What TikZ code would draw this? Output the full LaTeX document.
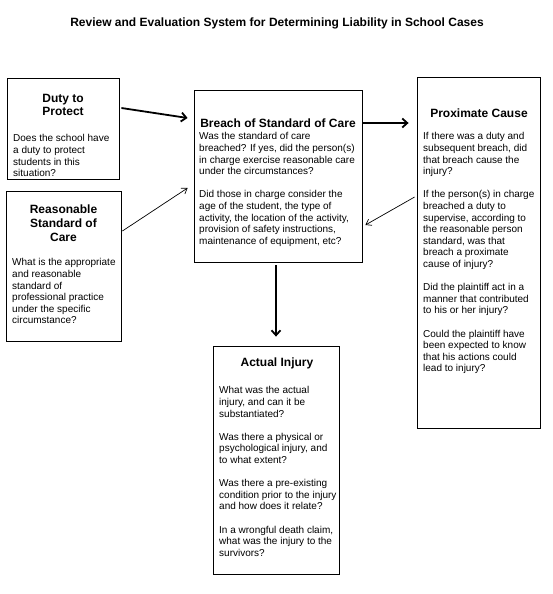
\documentclass[tikz,border=0pt]{standalone}
\usepackage{fontspec}
\setmainfont{Liberation Sans}
\usetikzlibrary{arrows.meta}

\begin{document}
\begin{tikzpicture}[x=1pt,y=1pt]
    \tikzstyle{every node}+=[inner sep=0pt]
    \tikzstyle{card}=[draw=black, line width=0.8pt]
    \tikzstyle{head}=[font=\fontsize{12}{13.8}\selectfont\bfseries, align=center]
    \tikzstyle{body}=[anchor=north west, font=\fontsize{10}{11.6}\selectfont, align=left]
    \tikzstyle{mainlink}=[black, line width=1.8pt, -{Straight Barb[length=5pt,width=9pt]}]
    \tikzstyle{sidelink}=[black, line width=0.7pt, -{Straight Barb[length=5pt,width=7pt]}]
    \useasboundingbox (0,0) rectangle (553,-594);
    \node (title) at (277,-23) [font=\fontsize{12}{14}\selectfont\bfseries] {Review and Evaluation System for Determining Liability in School Cases};
    % boxes
    \node [card, minimum width=112, minimum height=101] (duty) at (63,-128.5) {};
    \node [card, minimum width=115, minimum height=150] (reason) at (63.5,-266) {};
    \node [card, minimum width=168, minimum height=172] (breach) at (278,-176) {};
    \node [card, minimum width=123, minimum height=351] (prox) at (478.5,-252.5) {};
    \node [card, minimum width=126, minimum height=228] (injury) at (276,-460) {};
    % headings
    \node [head] (dutyhead) at (63,-105) {Duty to\\Protect};
    \node [head] (reasonhead) at (63.5,-223) {Reasonable\\Standard of\\Care};
    \node [head] (breachhead) at (278,-123) {Breach of Standard of Care};
    \node [head] (proxhead) at (479,-113) {Proximate Cause};
    \node [head] (injuryhead) at (277,-363) {Actual Injury};
    % texts
    \node [body] (dutytext) at (13,-134.5) {Does the school have\\a duty to protect\\students in this\\situation?};
    \node [body] (reasontext) at (12,-258.5) {What is the appropriate\\and reasonable\\standard of\\professional practice\\under the specific\\circumstance?};
    \node [body] (breachtext) at (199,-132.5) {Was the standard of care\\breached? If yes, did the person(s)\\in charge exercise reasonable care\\under the circumstances?\\[11.6pt]Did those in charge consider the\\age of the student, the type of\\activity, the location of the activity,\\provision of safety instructions,\\maintenance of equipment, etc?};
    \node [body] (proxtext) at (423,-132.5) {If there was a duty and\\subsequent breach, did\\that breach cause the\\injury?\\[11.6pt]If the person(s) in charge\\breached a duty to\\supervise, according to\\the reasonable person\\standard, was that\\breach a proximate\\cause of injury?\\[11.6pt]Did the plaintiff act in a\\manner that contributed\\to his or her injury?\\[11.6pt]Could the plaintiff have\\been expected to know\\that his actions could\\lead to injury?};
    \node [body] (injurytext) at (219,-386.5) {What was the actual\\injury, and can it be\\substantiated?\\[11.6pt]Was there a physical or\\psychological injury, and\\to what extent?\\[11.6pt]Was there a pre-existing\\condition prior to the injury\\and how does it relate?\\[11.6pt]In a wrongful death claim,\\what was the injury to the\\survivors?};
    % links
    \draw [mainlink] ([shift={(2,20.5)}]duty.east) -- ([shift={(-6,58)}]breach.west);
    \draw [sidelink] ([shift={(1,35)}]reason.east) -- ([shift={(-6,-12)}]breach.west);
    \draw [mainlink] ([shift={(0,53)}]breach.east) -- ([shift={(-8,129.5)}]prox.west);
    \draw [sidelink] ([shift={(-2,55.5)}]prox.west) -- ([shift={(3,-49)}]breach.east);
    \draw [mainlink] ([shift={(-2,-3)}]breach.south) -- ([shift={(0,9)}]injury.north);
\end{tikzpicture}
\end{document}
